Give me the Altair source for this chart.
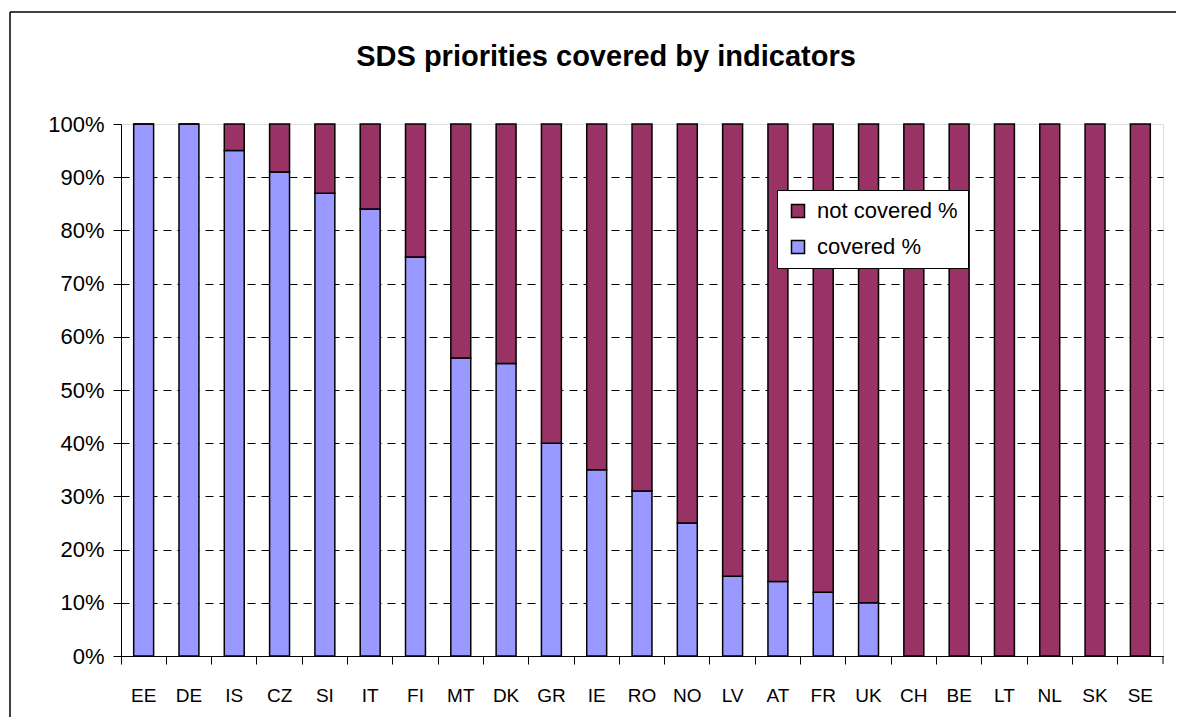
import altair as alt
import pandas as pd

countries = ["EE", "DE", "IS", "CZ", "SI", "IT", "FI", "MT", "DK", "GR", "IE", "RO",
             "NO", "LV", "AT", "FR", "UK", "CH", "BE", "LT", "NL", "SK", "SE"]
covered = [100, 100, 95, 91, 87, 84, 75, 56, 55, 40, 35, 31, 25, 15, 14, 12, 10,
           0, 0, 0, 0, 0, 0]
not_covered = [0, 0, 5, 9, 13, 16, 25, 44, 45, 60, 65, 69, 75, 85, 86, 88, 90,
               100, 100, 100, 100, 100, 100]
series = ["not covered %", "covered %"]
colors = ["#993366", "#9999FF"]
title_text = "SDS priorities covered by indicators"
y_ticks = [0, 10, 20, 30, 40, 50, 60, 70, 80, 90, 100]

rows = []
for c, cv, nc in zip(countries, covered, not_covered):
    rows.append({"country": c, "series": "covered %", "value": cv, "stack_order": 0})
    rows.append({"country": c, "series": "not covered %", "value": nc, "stack_order": 1})
df = pd.DataFrame(rows)

W, H = 1042, 532
FONT = "Liberation Sans"
P_IN, P_OUT = 0.56, 0.28
tick_band_pos = -P_OUT / (1 - P_IN)

bars = alt.Chart(df).mark_bar(stroke="black", strokeWidth=1.5).encode(
    x=alt.X(
        "country:N", sort=countries,
        scale=alt.Scale(paddingInner=P_IN, paddingOuter=P_OUT),
        axis=alt.Axis(title=None, bandPosition=tick_band_pos, labelAngle=0,
                      tickSize=8, tickColor="black", domainColor="black",
                      labelFontSize=19, labelColor="black", labelFont=FONT,
                      labelPadding=22, grid=False),
    ),
    y=alt.Y(
        "value:Q", stack="zero",
        scale=alt.Scale(domain=[0, 100], nice=False),
        axis=alt.Axis(title=None, values=y_ticks, labelExpr="datum.value + '%'",
                      tickSize=8, tickColor="black", domainColor="black",
                      labelFontSize=22, labelColor="black", labelFont=FONT,
                      labelPadding=9, grid=True, gridColor="black", gridDash=[8, 6],
                      gridOpacity={"condition": {"test": "datum.value >= 100", "value": 0}, "value": 1}),
    ),
    color=alt.Color(
        "series:N",
        scale=alt.Scale(domain=series, range=colors),
        legend=alt.Legend(title=None, orient="none", legendX=656, legendY=66,
                          symbolType="square", symbolSize=169,
                          symbolStrokeColor="black", symbolStrokeWidth=1.5,
                          labelFontSize=22, labelColor="black", labelFont=FONT,
                          strokeColor="black", fillColor="white", padding=10,
                          rowPadding=14, labelOffset=8),
    ),
    order=alt.Order("stack_order:Q"),
)

title = alt.Chart(pd.DataFrame({"t": [title_text]})).mark_text(
    font=FONT, fontSize=29, fontWeight="bold", color="black",
    align="center", baseline="middle"
).encode(x=alt.value(485), y=alt.value(-67), text="t:N")

one = pd.DataFrame({"k": [0]})
frame_top = alt.Chart(one).mark_rule(color="black", strokeWidth=1.5).encode(
    x=alt.value(-111), x2=alt.value(1060), y=alt.value(-112))
frame_left = alt.Chart(one).mark_rule(color="black", strokeWidth=1.5).encode(
    x=alt.value(-111), y=alt.value(-112), y2=alt.value(640))
end_tick = alt.Chart(one).mark_rule(color="black", strokeWidth=1).encode(
    x=alt.value(W), y=alt.value(H), y2=alt.value(H + 8))

chart = alt.layer(bars, title, frame_top, frame_left, end_tick).properties(
    width=W, height=H,
    autosize=alt.AutoSizeParams(type="none"),
    padding={"left": 113, "top": 116, "right": 13, "bottom": 61},
    background="white",
).configure_view(stroke="#808080", strokeWidth=1.5).configure(font=FONT)

chart.save("out.html", embed_options={"renderer": "svg", "actions": False})
